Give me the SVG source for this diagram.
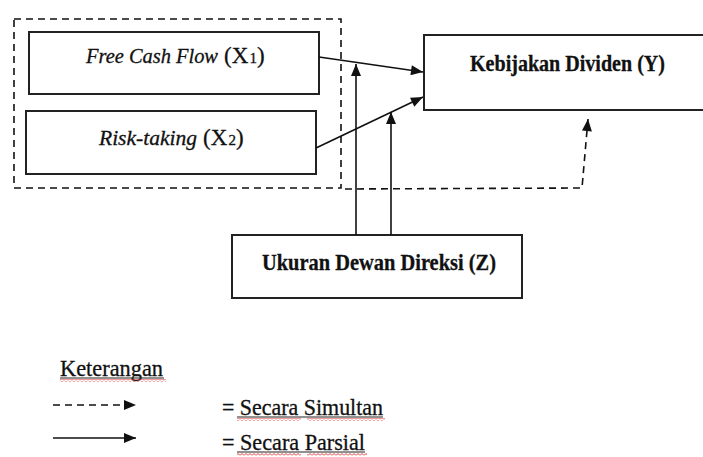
<svg xmlns="http://www.w3.org/2000/svg" width="703" height="457" viewBox="0 0 703 457">
<defs>
<style>
.box{fill:#fff;stroke:#222;stroke-width:2}
.dbox{fill:none;stroke:#111;stroke-width:1.6;stroke-dasharray:7 5}
.t{font-family:"Liberation Serif","Times New Roman",serif;fill:#111;stroke:#111;stroke-width:0.3}
.b{font-weight:bold}
.i{font-style:italic}
.ln{fill:none;stroke:#111;stroke-width:1.6}
.dl{fill:none;stroke:#111;stroke-width:1.6;stroke-dasharray:7 5}
.ul{stroke:#222;stroke-width:1}
</style>
<marker id="ah" viewBox="0 0 12 10" refX="12" refY="5" markerWidth="13" markerHeight="10" markerUnits="userSpaceOnUse" orient="auto">
<path d="M0,0 L12,5 L0,10 Z" fill="#111"/>
</marker>
<pattern id="sq" x="0" y="0" width="4" height="3" patternUnits="userSpaceOnUse">
<path d="M0,2.5 L2,0.5 L4,2.5" fill="none" stroke="#e02020" stroke-width="0.9"/>
</pattern>
</defs>
<rect width="703" height="457" fill="#fff"/>

<g id="group-x">
<rect class="dbox" x="14" y="19" width="327" height="169"/>
</g>

<g id="node-x1">
<rect class="box" x="29" y="32" width="290" height="62"/>
<text class="t i" x="86" y="63" font-size="21" textLength="132" lengthAdjust="spacingAndGlyphs">Free Cash Flow</text>
<text class="t" x="224" y="63" font-size="23">(X</text>
<text class="t" x="249.5" y="63" font-size="15">1</text>
<text class="t" x="257" y="63" font-size="23">)</text>
</g>

<g id="node-x2">
<rect class="box" x="26" y="111" width="290" height="63"/>
<text class="t i" x="99" y="145" font-size="21" textLength="98" lengthAdjust="spacingAndGlyphs">Risk-taking</text>
<text class="t" x="203" y="145" font-size="23">(X</text>
<text class="t" x="228.5" y="145" font-size="15">2</text>
<text class="t" x="236" y="145" font-size="23">)</text>
</g>

<g id="node-y">
<rect class="box" x="424" y="35" width="290" height="75"/>
<text class="t b" x="470" y="71" font-size="23" textLength="195" lengthAdjust="spacingAndGlyphs">Kebijakan Dividen (Y)</text>
</g>

<g id="node-z">
<rect class="box" x="232" y="235" width="290" height="63"/>
<text class="t b" x="262" y="270" font-size="23" textLength="234" lengthAdjust="spacingAndGlyphs">Ukuran Dewan Direksi (Z)</text>
</g>

<g id="connectors">
<line class="ln" x1="319" y1="57" x2="423" y2="72" marker-end="url(#ah)"/>
<line class="ln" x1="316" y1="148" x2="423" y2="97" marker-end="url(#ah)"/>
<line class="ln" x1="356" y1="235" x2="356" y2="64" marker-end="url(#ah)"/>
<line class="ln" x1="391" y1="235" x2="391" y2="112" marker-end="url(#ah)"/>
<polyline class="dl" points="345,189 582,188 588,119" marker-end="url(#ah)"/>
</g>

<g id="legend">
<text class="t" x="60" y="376" font-size="23" textLength="103" lengthAdjust="spacingAndGlyphs">Keterangan</text>
<line class="ul" x1="60" y1="378" x2="164" y2="378"/>
<rect x="60" y="379" width="106" height="3" fill="url(#sq)"/>
<line class="dl" x1="53" y1="405" x2="136" y2="405" marker-end="url(#ah)"/>
<line class="ln" x1="53" y1="438" x2="136" y2="438" marker-end="url(#ah)"/>
<text class="t" x="222" y="415" font-size="23" textLength="161" lengthAdjust="spacingAndGlyphs">= Secara Simultan</text>
<line class="ul" x1="237" y1="417" x2="383" y2="417"/>
<rect x="237" y="418" width="64" height="3" fill="url(#sq)"/>
<rect x="307" y="418" width="78" height="3" fill="url(#sq)"/>
<text class="t" x="222" y="450" font-size="23" textLength="143" lengthAdjust="spacingAndGlyphs">= Secara Parsial</text>
<line class="ul" x1="237" y1="452" x2="365" y2="452"/>
<rect x="237" y="453" width="64" height="3" fill="url(#sq)"/>
<rect x="307" y="453" width="60" height="3" fill="url(#sq)"/>
</g>
</svg>
